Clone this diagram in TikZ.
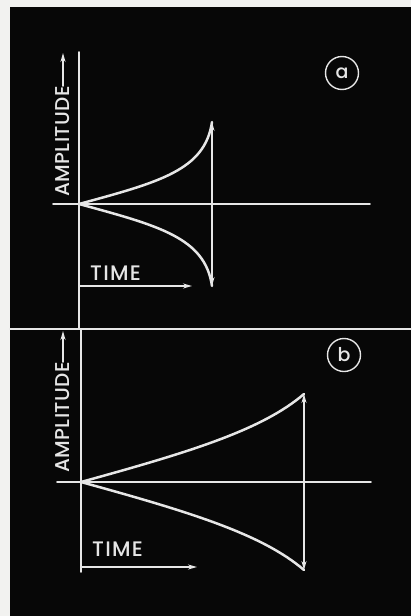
\documentclass[tikz,border=0pt]{standalone}
\usepackage{fontspec}
\setmainfont{Poppins}
\newfontfamily\lettering[LetterSpace=2]{Poppins Medium}
\newfontfamily\wideletter[LetterSpace=6]{Poppins Medium}
\usetikzlibrary{arrows.meta}
\definecolor{film}{HTML}{070707}
\definecolor{paper}{HTML}{F2F2F0}
\definecolor{trace}{HTML}{E6E6E6}
\tikzset{
  axis/.style={draw=trace,line width=1.6pt},
  curve/.style={draw=trace,line width=2.5pt},
  lbl/.style={text=trace,inner sep=0pt,font=\lettering\fontsize{20}{20}\selectfont},
  timelbl/.style={text=trace,inner sep=0pt,font=\wideletter\fontsize{21}{21}\selectfont},
  tag/.style={circle,draw=trace,line width=1.4pt,minimum size=33pt,inner sep=0pt,
    text=trace,font=\lettering\fontsize{19}{19}\selectfont}
}
\begin{document}
\begin{tikzpicture}[x=1pt,y=-1pt,line cap=round,line join=round,>={Stealth[length=9pt,width=5pt]}]
	\fill[paper] (0,0) rectangle (411,616);
	\fill[film] (10,7) rectangle (411,616);
	% panel a
	\coordinate (oA) at (79,204);
	\coordinate (aTop) at (79,52);
	\coordinate (aBot) at (79,329);
	\coordinate (aLeft) at (53,204);
	\coordinate (aRight) at (370,204);
	\coordinate (pkA) at (212,122);
	\coordinate (trA) at (212,286);
	\coordinate (tA0) at (79,286);
	\coordinate (tA1) at (192,286);
	\coordinate (ampAtip) at (63,53);
	\draw[axis] (aTop)--(aBot);
	\draw[axis] (aLeft)--(aRight);
	\draw[axis,<->] (pkA)--(trA);
	\draw[curve] (oA) .. controls (160,182) and (205,170) .. (pkA);
	\draw[curve] (oA) .. controls (160,226) and (205,238) .. (trA);
	\node[lbl,rotate=90,anchor=west] (ampA) at (63,197) {AMPLITUDE};
	\draw[axis,->] (ampA.east)--(ampAtip);
	\node[timelbl,anchor=west] (timeA) at (90,273) {TIME};
	\draw[axis,->] (tA0)--(tA1);
	\node[tag] (tagA) at (342,73) {a};
	% divider
	\coordinate (dL) at (10,329);
	\coordinate (dR) at (411,329);
	\draw[axis] (dL)--(dR);
	% panel b
	\coordinate (oB) at (81,482);
	\coordinate (bTop) at (81,329);
	\coordinate (bBot) at (81,572);
	\coordinate (bLeft) at (57,482);
	\coordinate (bRight) at (371,482);
	\coordinate (pkB) at (304,394);
	\coordinate (trB) at (304,570);
	\coordinate (tB0) at (81,567);
	\coordinate (tB1) at (197,567);
	\coordinate (ampBtip) at (63,331);
	\draw[axis] (bTop)--(bBot);
	\draw[axis] (bLeft)--(bRight);
	\draw[axis,<->] (pkB)--(trB);
	\draw[curve] (oB) .. controls (190,452) and (262,430) .. (pkB);
	\draw[curve] (oB) .. controls (190,512) and (262,534) .. (trB);
	\node[lbl,rotate=90,anchor=west] (ampB) at (63,473) {AMPLITUDE};
	\draw[axis,->] (ampB.east)--(ampBtip);
	\node[timelbl,anchor=west] (timeB) at (92,549) {TIME};
	\draw[axis,->] (tB0)--(tB1);
	\node[tag] (tagB) at (344,355) {b};
\end{tikzpicture}
\end{document}
